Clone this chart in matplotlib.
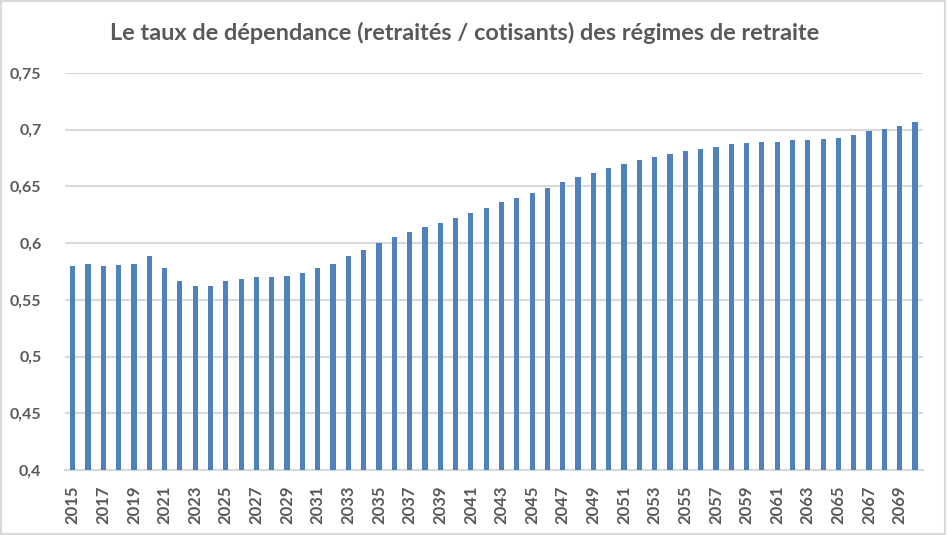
import matplotlib.pyplot as plt
from matplotlib.patches import Rectangle
from matplotlib.ticker import FixedLocator

# --- Data
years = list(range(2015, 2071))
taux = [
    0.580, 0.582, 0.580, 0.581, 0.582, 0.589, 0.578, 0.567, 0.562, 0.562,
    0.567, 0.568, 0.570, 0.570, 0.571, 0.574, 0.578, 0.582, 0.589, 0.594,
    0.600, 0.605, 0.610, 0.614, 0.618, 0.6225, 0.627, 0.631, 0.636, 0.640,
    0.6445, 0.649, 0.6535, 0.658, 0.662, 0.666, 0.670, 0.673, 0.676, 0.679,
    0.681, 0.683, 0.685, 0.687, 0.688, 0.689, 0.689, 0.691, 0.691, 0.692,
    0.693, 0.695, 0.699, 0.7005, 0.703, 0.707,
]
y_ticks = [0.4, 0.45, 0.5, 0.55, 0.6, 0.65, 0.7, 0.75]
y_labels = [f"{v:g}".replace(".", ",") for v in y_ticks]

title = "Le taux de dépendance (retraités / cotisants) des régimes de retraite"

# --- Style
plt.rcParams['font.family'] = ['Lato', 'DejaVu Sans']
txt_col = "#595959"
grid_col = "#D9D9D9"
bar_col = "#4F81BD"

W, H = 947, 535
fig = plt.figure(figsize=(W / 100, H / 100), dpi=100)
ax = fig.add_axes([65 / W, 1 - 470 / H, (922.7 - 65) / W, (470 - 73) / H])

x = list(range(len(years)))
ax.bar(x, taux, width=0.34, color=bar_col, zorder=3)

ax.set_xlim(-0.5, len(years) - 0.5)
ax.set_ylim(0.4, 0.75)
ax.yaxis.set_major_locator(FixedLocator(y_ticks))
ax.set_yticklabels(y_labels)
ax.set_xticks(x[::2])
ax.set_xticklabels([str(y) for y in years[::2]], rotation=90)

ax.tick_params(axis='y', length=0, pad=17, labelsize=11.5, labelcolor=txt_col)
ax.tick_params(axis='x', length=0, pad=11, labelsize=12, labelcolor=txt_col)
for lab in ax.get_xticklabels() + ax.get_yticklabels():
    lab.set_fontweight('bold')

ax.grid(axis='y', color=grid_col, linewidth=1.5, zorder=0)
for side in ['top', 'right', 'left']:
    ax.spines[side].set_visible(False)
ax.spines['bottom'].set_color(grid_col)
ax.spines['bottom'].set_linewidth(1.5)

fig.text(464.5 / W, 1 - 33 / H, title, ha='center', va='center',
         fontsize=16.9, fontweight='bold', color=txt_col)

# --- Outer border like the Excel chart frame
fig.patches.append(Rectangle((0.001, 0.002), 0.997, 0.996, transform=fig.transFigure,
                             fill=False, edgecolor=grid_col, linewidth=1.5))

fig.savefig("out.png", dpi=100)
